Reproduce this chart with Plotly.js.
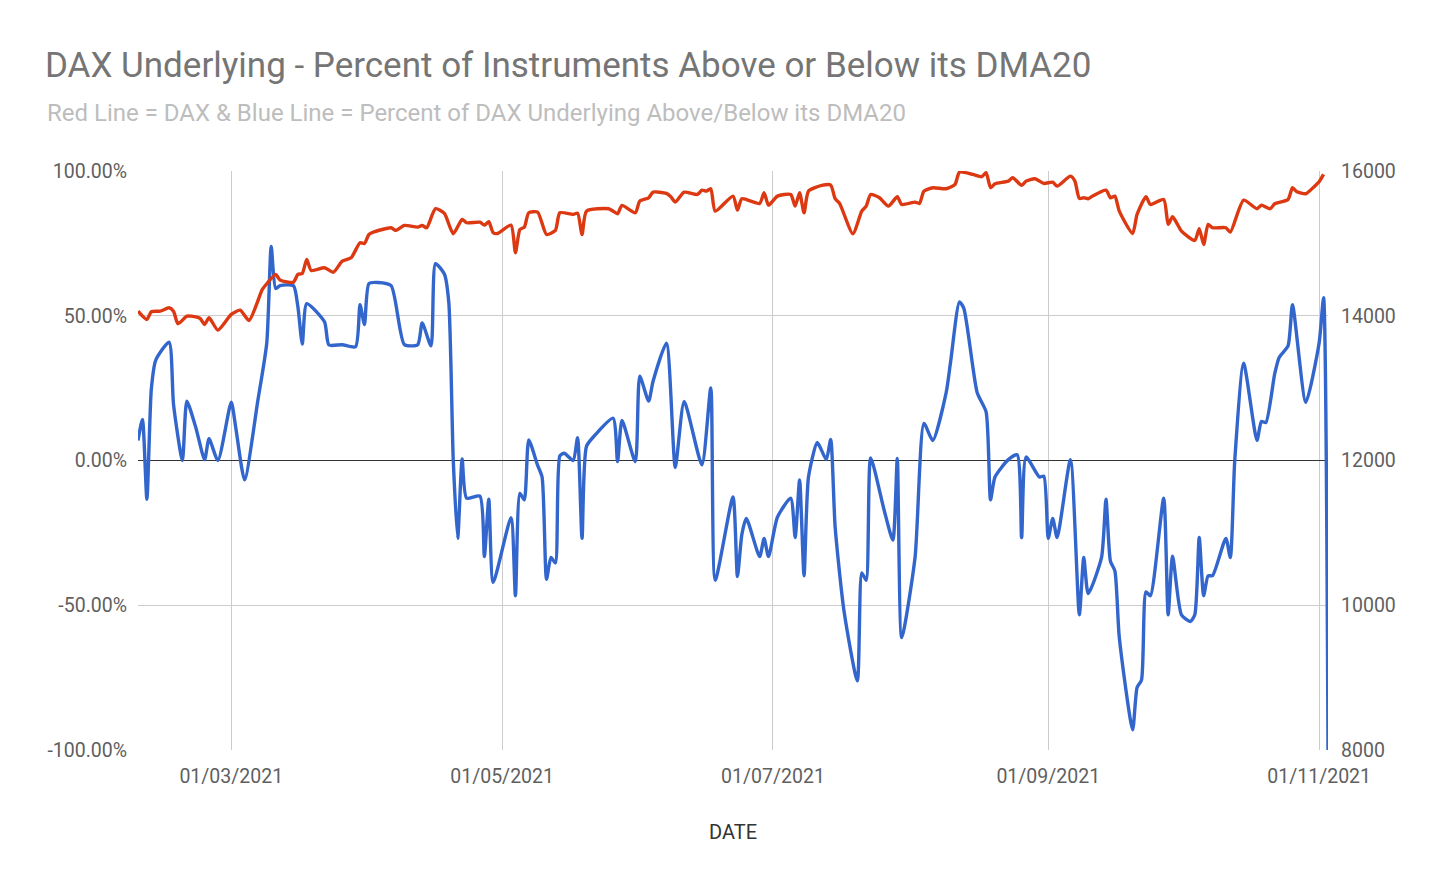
<!DOCTYPE html>
<html>
<head>
<meta charset="utf-8">
<script src="https://cdn.plot.ly/plotly-3.0.1.min.js"></script>
<style>
  html, body { margin: 0; padding: 0; background: #ffffff; }
  #chart { width: 1440px; height: 889px; }
</style>
</head>
<body>
<div id="chart"></div>
<script>
// ---- Data ----
const daxDates = [
  "2021-02-08","2021-02-10","2021-02-11","2021-02-13","2021-02-15","2021-02-16","2021-02-17","2021-02-19","2021-02-20","2021-02-22",
  "2021-02-23","2021-02-24","2021-02-26","2021-03-01","2021-03-03","2021-03-05","2021-03-08","2021-03-09","2021-03-11","2021-03-12",
  "2021-03-15","2021-03-16","2021-03-17","2021-03-18","2021-03-19","2021-03-22","2021-03-24","2021-03-26","2021-03-28","2021-03-30",
  "2021-03-31","2021-04-01","2021-04-02","2021-04-06","2021-04-07","2021-04-09","2021-04-12","2021-04-13","2021-04-14","2021-04-16",
  "2021-04-18","2021-04-20","2021-04-22","2021-04-23","2021-04-26","2021-04-27","2021-04-28","2021-04-29","2021-04-30","2021-05-03",
  "2021-05-04","2021-05-05","2021-05-06","2021-05-07","2021-05-09","2021-05-11","2021-05-13","2021-05-14","2021-05-17","2021-05-18",
  "2021-05-19","2021-05-20","2021-05-25","2021-05-26","2021-05-27","2021-05-28","2021-05-31","2021-06-01","2021-06-03","2021-06-04",
  "2021-06-07","2021-06-08","2021-06-09","2021-06-11","2021-06-14","2021-06-15","2021-06-16","2021-06-17","2021-06-18","2021-06-22",
  "2021-06-23","2021-06-24","2021-06-28","2021-06-29","2021-06-30","2021-07-02","2021-07-05","2021-07-06","2021-07-07","2021-07-08",
  "2021-07-09","2021-07-12","2021-07-14","2021-07-15","2021-07-16","2021-07-19","2021-07-21","2021-07-22","2021-07-23","2021-07-25",
  "2021-07-27","2021-07-29","2021-07-30","2021-08-02","2021-08-03","2021-08-04","2021-08-06","2021-08-09","2021-08-11","2021-08-12",
  "2021-08-15","2021-08-17","2021-08-18","2021-08-19","2021-08-20","2021-08-23","2021-08-24","2021-08-26","2021-08-27","2021-08-29",
  "2021-08-31","2021-09-02","2021-09-03","2021-09-06","2021-09-07","2021-09-08","2021-09-09","2021-09-10","2021-09-11","2021-09-14",
  "2021-09-15","2021-09-16","2021-09-17","2021-09-20","2021-09-21","2021-09-23","2021-09-24","2021-09-27","2021-09-28","2021-09-29",
  "2021-10-01","2021-10-04","2021-10-05","2021-10-06","2021-10-07","2021-10-08","2021-10-11","2021-10-12","2021-10-15","2021-10-18",
  "2021-10-19","2021-10-21","2021-10-22","2021-10-25","2021-10-26","2021-10-27","2021-10-29","2021-10-31","2021-11-01","2021-11-02"
];
const daxValues = [
  14063,13949,14055,14063,14110,14063,13889,13994,13994,13962,
  13880,13972,13801,14018,14077,13935,14363,14442,14571,14492,
  14464,14571,14584,14778,14626,14663,14602,14754,14801,15009,
  14999,15123,15155,15216,15179,15248,15224,15248,15216,15479,
  15414,15133,15331,15285,15293,15252,15299,15147,15137,15252,
  14870,15192,15224,15423,15432,15123,15179,15423,15400,15418,
  15123,15445,15479,15445,15409,15524,15423,15584,15630,15708,
  15690,15644,15570,15708,15676,15736,15722,15755,15445,15653,
  15459,15617,15552,15700,15528,15653,15676,15514,15700,15423,
  15722,15801,15805,15617,15552,15133,15445,15514,15676,15630,
  15514,15644,15538,15570,15552,15722,15769,15755,15814,15984,
  15953,15921,15976,15769,15824,15860,15907,15801,15860,15893,
  15828,15846,15791,15929,15860,15621,15630,15617,15653,15736,
  15630,15653,15445,15137,15400,15644,15538,15607,15262,15368,
  15169,15040,15202,14985,15262,15216,15216,15155,15597,15479,
  15528,15479,15548,15607,15769,15713,15686,15791,15852,15953
];

const pctDates = [
  "2021-02-08","2021-02-09","2021-02-10","2021-02-11","2021-02-12","2021-02-15","2021-02-16","2021-02-18","2021-02-19","2021-02-21",
  "2021-02-23","2021-02-24","2021-02-26","2021-03-01","2021-03-02","2021-03-04","2021-03-07","2021-03-09","2021-03-10","2021-03-11",
  "2021-03-12","2021-03-15","2021-03-16","2021-03-17","2021-03-18","2021-03-22","2021-03-23","2021-03-26","2021-03-29","2021-03-30",
  "2021-03-31","2021-04-01","2021-04-03","2021-04-06","2021-04-09","2021-04-12","2021-04-13","2021-04-15","2021-04-16","2021-04-18",
  "2021-04-19","2021-04-20","2021-04-21","2021-04-22","2021-04-23","2021-04-26","2021-04-27","2021-04-28","2021-04-29","2021-05-03",
  "2021-05-04","2021-05-05","2021-05-06","2021-05-07","2021-05-09","2021-05-10","2021-05-11","2021-05-12","2021-05-13","2021-05-14",
  "2021-05-15","2021-05-17","2021-05-18","2021-05-19","2021-05-20","2021-05-22","2021-05-26","2021-05-27","2021-05-28","2021-05-31",
  "2021-06-01","2021-06-03","2021-06-04","2021-06-07","2021-06-09","2021-06-11","2021-06-15","2021-06-17","2021-06-18","2021-06-22",
  "2021-06-23","2021-06-24","2021-06-25","2021-06-28","2021-06-29","2021-06-30","2021-07-02","2021-07-05","2021-07-06","2021-07-07",
  "2021-07-08","2021-07-09","2021-07-11","2021-07-13","2021-07-14","2021-07-15","2021-07-17","2021-07-20","2021-07-21","2021-07-22",
  "2021-07-23","2021-07-26","2021-07-28","2021-07-29","2021-07-30","2021-08-02","2021-08-04","2021-08-06","2021-08-09","2021-08-10",
  "2021-08-12","2021-08-13","2021-08-16","2021-08-18","2021-08-19","2021-08-20","2021-08-23","2021-08-25","2021-08-26","2021-08-27",
  "2021-08-30","2021-08-31","2021-09-01","2021-09-02","2021-09-03","2021-09-06","2021-09-08","2021-09-09","2021-09-10","2021-09-13",
  "2021-09-14","2021-09-15","2021-09-16","2021-09-17","2021-09-20","2021-09-21","2021-09-22","2021-09-23","2021-09-24","2021-09-27",
  "2021-09-28","2021-09-29","2021-10-01","2021-10-03","2021-10-04","2021-10-05","2021-10-06","2021-10-07","2021-10-08","2021-10-11",
  "2021-10-12","2021-10-13","2021-10-15","2021-10-18","2021-10-19","2021-10-20","2021-10-22","2021-10-23","2021-10-25","2021-10-26",
  "2021-10-29","2021-11-01","2021-11-02","2021-11-03"
];
const pctValues = [
  6.9,14.2,-13.4,24.7,34.7,40.9,19.4,0,20.5,11.5,
  0.3,7.5,0,20.1,11.5,-6.7,20.8,40.6,73.9,59.4,
  60.4,60.4,53.2,40.2,54.2,47.9,39.9,40,39.3,53.8,
  47,61.1,61.5,60.4,40,40,47.5,39.6,68,64.4,
  54.5,0,-26.9,0.5,-13,-12.3,-33.2,-13.4,-42.1,-19.8,
  -46.7,-11.4,-13.6,7.1,-1.7,-5.7,-41,-33.5,-35.4,1.6,
  2.5,0,7.9,-26.9,4.9,8.9,14.6,-0.4,13.8,-0.4,
  29.1,20.5,27.4,40.5,-2.4,20.4,-1.5,25.1,-41.4,-12.6,
  -40.1,-25.5,-20,-33.2,-26.9,-33.2,-19.6,-13,-26.6,-6.7,
  -39.8,-5.7,6.2,0.3,7.3,-22.9,-52,-76.1,-38.8,-41.4,
  0.9,-16.9,-27.5,0.7,-61.2,-33.5,12.8,6.9,23.4,34,
  54.8,52.5,23.4,16.8,-13.6,-5.7,0.3,2,-26.6,1.2,
  -5.7,-5.4,-26.9,-20,-26.6,0.3,-53.3,-33.5,-46,-33.5,
  -13.4,-34.8,-38.1,-61.2,-93,-78.4,-75.8,-45.4,-46.7,-13,
  -53.3,-33.1,-53.3,-55.6,-53.3,-26.6,-46.7,-39.8,-39.8,-26.9,
  -33.5,0,33.6,6.9,13.5,13.1,30,35.6,39.6,53.8,
  20.1,40.6,56.2,-100
];

// Tick labels
const xTickVals = ["2021-03-01","2021-05-01","2021-07-01","2021-09-01","2021-11-01"];
const xTickText = ["01/03/2021","01/05/2021","01/07/2021","01/09/2021","01/11/2021"];
const yTickVals = [-100, -50, 0, 50, 100];
const yTickText = ["-100.00%","-50.00%","0.00%","50.00%","100.00%"];
const y2TickVals = [8000, 10000, 12000, 14000, 16000];
const y2TickText = ["8000","10000","12000","14000","16000"];

const titleText = "DAX Underlying - Percent of Instruments Above or Below its DMA20";
const subtitleText = "Red Line = DAX &amp; Blue Line = Percent of DAX Underlying Above/Below its DMA20";

const FONT = "Roboto, 'Noto Sans', sans-serif";
const W = 1440, H = 889;
const M = {l: 138, r: 112, t: 171, b: 139};

const traces = [
  {
    x: daxDates, y: daxValues, yaxis: "y2", type: "scatter", mode: "lines",
    line: {color: "#dc3912", width: 3.4, shape: "spline", smoothing: 0.6},
    hoverinfo: "x+y", name: "DAX"
  },
  {
    x: pctDates, y: pctValues, yaxis: "y", type: "scatter", mode: "lines",
    line: {color: "#3366cc", width: 3.4, shape: "spline", smoothing: 0.6},
    hoverinfo: "x+y", name: "Percent"
  }
];

const layout = {
  width: W, height: H,
  margin: M,
  paper_bgcolor: "#ffffff", plot_bgcolor: "#ffffff",
  showlegend: false,
  font: {family: FONT, color: "#5f5f5f"},
  title: {
    text: titleText,
    font: {family: FONT, size: 35, color: "#757575"},
    xref: "container", x: 45 / W, xanchor: "left",
    yref: "container", y: 1 - 65 / H, yanchor: "middle"
  },
  annotations: [{
    text: subtitleText, showarrow: false,
    xref: "paper", yref: "paper",
    x: (45 - M.l) / (W - M.l - M.r), xanchor: "left",
    y: (H - M.b - 113) / (H - M.t - M.b), yanchor: "middle",
    font: {family: FONT, size: 24, color: "#bdbdbd"}
  }],
  xaxis: {
    type: "date",
    range: ["2021-02-08", "2021-11-03"],
    tickmode: "array", tickvals: xTickVals, ticktext: xTickText,
    showgrid: true, gridcolor: "#cccccc", gridwidth: 1,
    zeroline: false, showline: false, ticks: "",
    ticklabelstandoff: 12,
    tickfont: {family: FONT, size: 19.5, color: "#5f5f5f"},
    title: {text: "DATE", font: {family: FONT, size: 20, color: "#333333"}, standoff: 38}
  },
  yaxis: {
    range: [-100, 100],
    tickmode: "array", tickvals: yTickVals, ticktext: yTickText,
    showgrid: true, gridcolor: "#cccccc", gridwidth: 1,
    zeroline: true, zerolinecolor: "#333333", zerolinewidth: 1.5,
    showline: false, ticks: "",
    ticklabelstandoff: 10,
    tickfont: {family: FONT, size: 19.5, color: "#5f5f5f"}
  },
  yaxis2: {
    overlaying: "y", side: "right",
    range: [8000, 16000],
    tickmode: "array", tickvals: y2TickVals, ticktext: y2TickText,
    showgrid: false, zeroline: false, showline: false, ticks: "",
    ticklabelstandoff: 12,
    tickfont: {family: FONT, size: 19.5, color: "#5f5f5f"}
  }
};

Plotly.newPlot("chart", traces, layout, {displayModeBar: false, staticPlot: true});
</script>
</body>
</html>
